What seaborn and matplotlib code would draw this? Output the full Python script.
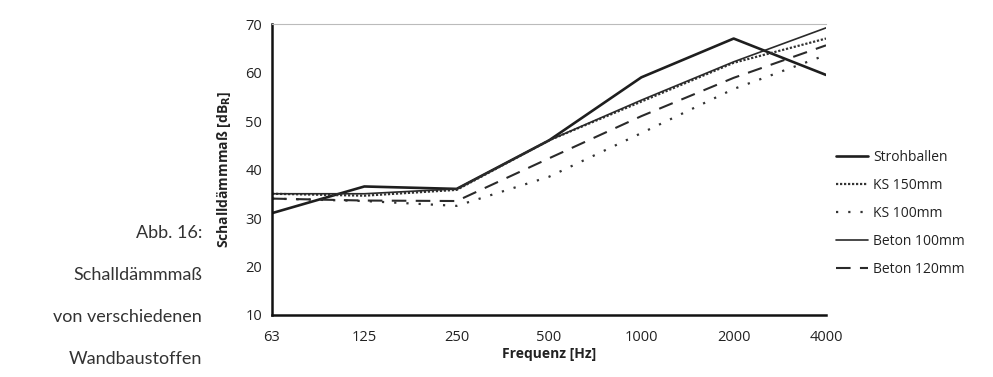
"""
Schalldämmmaß verschiedener Wandbaustoffe (Abb. 16)
"""

import matplotlib.pyplot as plt
import numpy as np
import pandas as pd
import seaborn as sns

sns.set_theme(style="white")
plt.rcParams["font.family"] = ["Open Sans", "DejaVu Sans"]

# Daten
frequenzen = ["63", "125", "250", "500", "1000", "2000", "4000"]
strohballen = [31, 36.5, 36, 46, 59, 67, 59.5]
ks_150 = [35, 34.6, 35.8, 46, 54, 62, 67]
ks_100 = [34, 33.5, 32.5, 38.5, 47.5, 56.6, 63.6]
beton_100 = [35, 35, 36, 46, 54.3, 62.2, 69.2]
beton_120 = [34, 33.6, 33.5, 42.3, 51, 58.9, 65.6]

serien = {
    "Strohballen": strohballen,
    "KS 150mm": ks_150,
    "KS 100mm": ks_100,
    "Beton 100mm": beton_100,
    "Beton 120mm": beton_120,
}

stile = {
    "Strohballen": dict(linestyle="-", linewidth=1.9, color="#1e1e1e"),
    "KS 150mm": dict(linestyle=(0, (1, 0.8)), linewidth=1.6, color="#333333"),
    "KS 100mm": dict(linestyle=(0, (1, 4.5)), linewidth=1.6, color="#333333"),
    "Beton 100mm": dict(linestyle="-", linewidth=1.2, color="#2a2a2a"),
    "Beton 120mm": dict(linestyle=(0, (7, 4.5)), linewidth=1.5, color="#2a2a2a"),
}

fig = plt.figure(figsize=(9.93, 3.77), dpi=100)
ax = fig.add_axes([272 / 993, 1 - 315 / 377, (826 - 272) / 993, (315 - 24) / 377])

pos = np.arange(len(frequenzen))
for name, werte in serien.items():
    df = pd.DataFrame({"pos": pos, "wert": werte})
    sns.lineplot(data=df, x="pos", y="wert", ax=ax, label=name, **stile[name])

ax.set_xlim(0, len(frequenzen) - 1)
ax.set_ylim(10, 70)
ax.set_xticks(pos)
ax.set_xticklabels(frequenzen)
ax.set_yticks(range(10, 71, 10))
ax.tick_params(axis="both", length=0, labelsize=10.5, colors="#222222")
ax.tick_params(axis="x", pad=11)
ax.tick_params(axis="y", pad=7)

ax.set_xlabel("Frequenz [Hz]", fontsize=10, fontweight="bold", color="#222222", labelpad=1)
ax.set_ylabel("Schalldämmmaß [dB$_\\mathbf{R}$]", fontsize=10, fontweight="bold",
              color="#222222", labelpad=9)

for s in ["left", "bottom"]:
    ax.spines[s].set_color("#111111")
    ax.spines[s].set_linewidth(1.8)
ax.spines["right"].set_visible(False)
ax.spines["top"].set_color("#bbbbbb")
ax.spines["top"].set_linewidth(0.8)
ax.spines["top"].set_linestyle((0, (2, 1)))

leg = ax.legend(loc="upper left", bbox_to_anchor=(830 / 993, 1 - 144 / 377),
                bbox_transform=fig.transFigure, frameon=False, fontsize=10,
                handlelength=2.3, handletextpad=0.4, labelspacing=0.95,
                borderaxespad=0)
for t in leg.get_texts():
    t.set_color("#222222")

# Bildunterschrift links
caption = ["Abb. 16:", "Schalldämmmaß", "von verschiedenen", "Wandbaustoffen"]
for i, zeile in enumerate(caption):
    fig.text(202 / 993, 1 - (233 + 42 * i) / 377, zeile, ha="right", va="center",
             fontsize=13, color="#333333", family=["Lato", "DejaVu Sans"])

plt.savefig("out.png", dpi=100)
plt.close()
